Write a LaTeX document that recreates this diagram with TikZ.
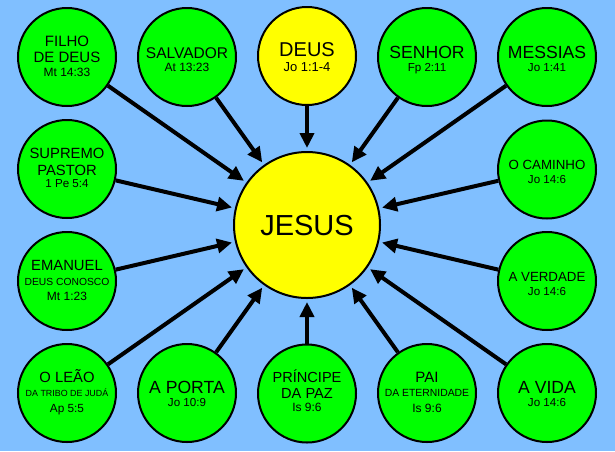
\documentclass[tikz,border=0pt]{standalone}
\usepackage{fontspec}
\setmainfont{Liberation Sans}
\usetikzlibrary{arrows.meta}
\definecolor{bg}{RGB}{128,191,255}
\definecolor{gr}{RGB}{0,255,0}
\definecolor{ye}{RGB}{255,255,0}
\newcommand\fz[1]{\fontsize{#1pt}{#1pt}\selectfont}
\tikzset{
  bub/.style={circle,draw=black,line width=2pt,fill=gr,minimum size=98pt,inner sep=0pt},
  ybub/.style={bub,fill=ye},
  jbub/.style={bub,fill=ye,minimum size=146pt},
  tx/.style={anchor=base,inner sep=0pt,text=black},
  arr/.style={draw=black,line width=4pt,-{Triangle[length=15pt,width=14pt]},shorten >=3pt}
}
\begin{document}
\begin{tikzpicture}[x=1pt,y=-1pt]
\fill[bg] (0,0) rectangle (615,451);
\useasboundingbox (0,0) rectangle (615,451);
% circles
\node[bub]  (c1)  at (67,57) {};
\node[bub]  (c2)  at (187,57) {};
\node[ybub] (c3)  at (307,56) {};
\node[bub]  (c4)  at (427,57) {};
\node[bub]  (c5)  at (547,57) {};
\node[bub]  (c6)  at (67,169) {};
\node[bub]  (c7)  at (547,169.5) {};
\node[bub]  (c8)  at (67,281) {};
\node[bub]  (c9)  at (547,281) {};
\node[bub]  (c10) at (67,393) {};
\node[bub]  (c11) at (187,393) {};
\node[bub]  (c12) at (307,393.5) {};
\node[bub]  (c13) at (427,393) {};
\node[bub]  (c14) at (547,393) {};
\node[jbub] (J)   at (307,225) {};
% arrows
\foreach \i in {1,...,14} { \draw[arr] (c\i) -- (J); }
% texts
\node[tx,font=\fz{29}] (tJ) at (307,235.7) {JESUS};
\node[tx,font=\fz{15}] (t1a) at (67,46.7) {FILHO};
\node[tx,font=\fz{15}] (t1b) at (67,62.7) {DE DEUS};
\node[tx,font=\fz{12}] (t1c) at (67,76) {Mt 14:33};
\node[tx,font=\fz{15.5}] (t2a) at (187,58.3) {SALVADOR};
\node[tx,font=\fz{12}] (t2b) at (187,71) {At 13:23};
\node[tx,font=\fz{20}] (t3a) at (307,56.7) {DEUS};
\node[tx,font=\fz{13}] (t3b) at (307,71.3) {Jo 1:1-4};
\node[tx,font=\fz{17.6}] (t4a) at (427,58.3) {SENHOR};
\node[tx,font=\fz{11.6}] (t4b) at (427,71) {Fp 2:11};
\node[tx,font=\fz{17.6}] (t5a) at (547,58.3) {MESSIAS};
\node[tx,font=\fz{11.6}] (t5b) at (547,71) {Jo 1:41};
\node[tx,font=\fz{14.8}] (t6a) at (67,158.3) {SUPREMO};
\node[tx,font=\fz{14.8}] (t6b) at (67,175) {PASTOR};
\node[tx,font=\fz{11.6}] (t6c) at (67,187.7) {1 Pe 5:4};
\node[tx,font=\fz{13.3}] (t7a) at (547,169.3) {O CAMINHO};
\node[tx,font=\fz{11.6}] (t7b) at (547,183.3) {Jo 14:6};
\node[tx,font=\fz{14.8}] (t8a) at (67,270.7) {EMANUEL};
\node[tx,font=\fz{10.3}] (t8b) at (67,285) {DEUS CONOSCO};
\node[tx,font=\fz{12}] (t8c) at (67,300.7) {Mt 1:23};
\node[tx,font=\fz{13.3}] (t9a) at (547,281.7) {A VERDADE};
\node[tx,font=\fz{11.6}] (t9b) at (547,295) {Jo 14:6};
\node[tx,font=\fz{14.8}] (t10a) at (67,382.3) {O LEÃO};
\node[tx,font=\fz{8.9}] (t10b) at (67,396.7) {DA TRIBO DE JUDÁ};
\node[tx,font=\fz{11.8}] (t10c) at (67,412.3) {Ap 5:5};
\node[tx,font=\fz{17.6}] (t11a) at (187,393.3) {A PORTA};
\node[tx,font=\fz{11.6}] (t11b) at (187,406) {Jo 10:9};
\node[tx,font=\fz{14.6}] (t12a) at (307,382.7) {PRÍNCIPE};
\node[tx,font=\fz{14.6}] (t12b) at (307,398.3) {DA PAZ};
\node[tx,font=\fz{12}] (t12c) at (307,411.7) {Is 9:6};
\node[tx,font=\fz{15}] (t13a) at (427,382.7) {PAI};
\node[tx,font=\fz{10.4}] (t13b) at (427,396.7) {DA ETERNIDADE};
\node[tx,font=\fz{12}] (t13c) at (427,412.3) {Is 9:6};
\node[tx,font=\fz{17.6}] (t14a) at (547,393.3) {A VIDA};
\node[tx,font=\fz{11.6}] (t14b) at (547,406.7) {Jo 14:6};
\end{tikzpicture}
\end{document}
